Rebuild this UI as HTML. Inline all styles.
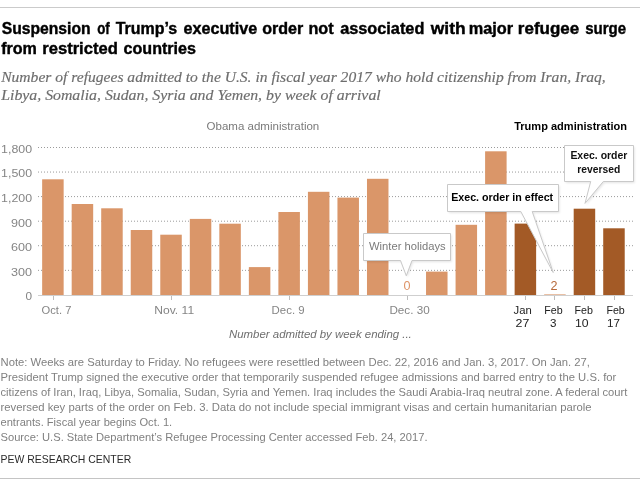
<!DOCTYPE html>
<html><head><meta charset="utf-8"><title>Refugee chart</title>
<style>
html,body{margin:0;padding:0;background:#fff;}
body{width:640px;height:486px;overflow:hidden;}
svg{display:block;will-change:transform;}
</style></head>
<body>
<svg width="640" height="486" viewBox="0 0 640 486">
<defs><filter id="blur" x="-10%" y="-10%" width="120%" height="130%"><feGaussianBlur stdDeviation="1"/></filter></defs>
<rect width="640" height="486" fill="#fff"/>
<rect x="0" y="7" width="640" height="1" fill="#cbcbcb"/>
<rect x="0" y="478" width="640" height="1" fill="#c4c4c4"/>
<text x="1.7" y="33.6" font-family="'Liberation Sans', sans-serif" font-size="16" font-weight="bold" font-style="normal" fill="#000" text-anchor="start" textLength="88.86" lengthAdjust="spacingAndGlyphs" stroke="#000" stroke-width="0.4">Suspension</text>
<text x="97.2" y="33.6" font-family="'Liberation Sans', sans-serif" font-size="16" font-weight="bold" font-style="normal" fill="#000" text-anchor="start" textLength="12.54" lengthAdjust="spacingAndGlyphs" stroke="#000" stroke-width="0.4">of</text>
<text x="115.7" y="33.6" font-family="'Liberation Sans', sans-serif" font-size="16" font-weight="bold" font-style="normal" fill="#000" text-anchor="start" textLength="61.5" lengthAdjust="spacingAndGlyphs" stroke="#000" stroke-width="0.4">Trump’s</text>
<text x="183.45" y="33.6" font-family="'Liberation Sans', sans-serif" font-size="16" font-weight="bold" font-style="normal" fill="#000" text-anchor="start" textLength="73.75" lengthAdjust="spacingAndGlyphs" stroke="#000" stroke-width="0.4">executive</text>
<text x="262.2" y="33.6" font-family="'Liberation Sans', sans-serif" font-size="16" font-weight="bold" font-style="normal" fill="#000" text-anchor="start" textLength="41.08" lengthAdjust="spacingAndGlyphs" stroke="#000" stroke-width="0.4">order</text>
<text x="308.44" y="33.6" font-family="'Liberation Sans', sans-serif" font-size="16" font-weight="bold" font-style="normal" fill="#000" text-anchor="start" textLength="25.18" lengthAdjust="spacingAndGlyphs" stroke="#000" stroke-width="0.4">not</text>
<text x="340.2" y="33.6" font-family="'Liberation Sans', sans-serif" font-size="16" font-weight="bold" font-style="normal" fill="#000" text-anchor="start" textLength="84.14" lengthAdjust="spacingAndGlyphs" stroke="#000" stroke-width="0.4">associated</text>
<text x="430.79" y="33.6" font-family="'Liberation Sans', sans-serif" font-size="16" font-weight="bold" font-style="normal" fill="#000" text-anchor="start" textLength="34.85" lengthAdjust="spacingAndGlyphs" stroke="#000" stroke-width="0.4">with</text>
<text x="468.68" y="33.6" font-family="'Liberation Sans', sans-serif" font-size="16" font-weight="bold" font-style="normal" fill="#000" text-anchor="start" textLength="44.35" lengthAdjust="spacingAndGlyphs" stroke="#000" stroke-width="0.4">major</text>
<text x="517.89" y="33.6" font-family="'Liberation Sans', sans-serif" font-size="16" font-weight="bold" font-style="normal" fill="#000" text-anchor="start" textLength="61.3" lengthAdjust="spacingAndGlyphs" stroke="#000" stroke-width="0.4">refugee</text>
<text x="585.2" y="33.6" font-family="'Liberation Sans', sans-serif" font-size="16" font-weight="bold" font-style="normal" fill="#000" text-anchor="start" textLength="40.9" lengthAdjust="spacingAndGlyphs" stroke="#000" stroke-width="0.4">surge</text>
<text x="1.2" y="53.6" font-family="'Liberation Sans', sans-serif" font-size="16" font-weight="bold" font-style="normal" fill="#000" text-anchor="start" textLength="35.73" lengthAdjust="spacingAndGlyphs" stroke="#000" stroke-width="0.4">from</text>
<text x="42.26" y="53.6" font-family="'Liberation Sans', sans-serif" font-size="16" font-weight="bold" font-style="normal" fill="#000" text-anchor="start" textLength="75.54" lengthAdjust="spacingAndGlyphs" stroke="#000" stroke-width="0.4">restricted</text>
<text x="123.6" y="53.6" font-family="'Liberation Sans', sans-serif" font-size="16" font-weight="bold" font-style="normal" fill="#000" text-anchor="start" textLength="72.35" lengthAdjust="spacingAndGlyphs" stroke="#000" stroke-width="0.4">countries</text>
<text x="1.2" y="81.9" font-family="'Liberation Serif', serif" font-size="14.2" font-weight="normal" font-style="italic" fill="#6d6d6d" text-anchor="start" textLength="604.5" lengthAdjust="spacingAndGlyphs" stroke="#6d6d6d" stroke-width="0.15">Number of refugees admitted to the U.S. in fiscal year 2017 who hold citizenship from Iran, Iraq,</text>
<text x="1.2" y="99.8" font-family="'Liberation Serif', serif" font-size="14.2" font-weight="normal" font-style="italic" fill="#6d6d6d" text-anchor="start" textLength="379.5" lengthAdjust="spacingAndGlyphs" stroke="#6d6d6d" stroke-width="0.15">Libya, Somalia, Sudan, Syria and Yemen, by week of arrival</text>
<text x="206.5" y="130.3" font-family="'Liberation Sans', sans-serif" font-size="11.2" font-weight="normal" font-style="normal" fill="#7a7a7a" text-anchor="start" textLength="112.8" lengthAdjust="spacingAndGlyphs">Obama administration</text>
<text x="514.2" y="130.3" font-family="'Liberation Sans', sans-serif" font-size="11.2" font-weight="bold" font-style="normal" fill="#000" text-anchor="start" textLength="112.8" lengthAdjust="spacingAndGlyphs">Trump administration</text>
<line x1="38" y1="270.35" x2="633" y2="270.35" stroke="#9a9a9a" stroke-width="1" stroke-dasharray="1 2"/>
<line x1="38" y1="245.7" x2="633" y2="245.7" stroke="#9a9a9a" stroke-width="1" stroke-dasharray="1 2"/>
<line x1="38" y1="221.2" x2="633" y2="221.2" stroke="#9a9a9a" stroke-width="1" stroke-dasharray="1 2"/>
<line x1="38" y1="196.6" x2="633" y2="196.6" stroke="#9a9a9a" stroke-width="1" stroke-dasharray="1 2"/>
<line x1="38" y1="172.05" x2="633" y2="172.05" stroke="#9a9a9a" stroke-width="1" stroke-dasharray="1 2"/>
<line x1="38" y1="147.5" x2="633" y2="147.5" stroke="#9a9a9a" stroke-width="1" stroke-dasharray="1 2"/>
<text x="32.1" y="300.4" font-family="'Liberation Sans', sans-serif" font-size="11.8" font-weight="normal" font-style="normal" fill="#858585" text-anchor="end">0</text>
<text x="32.1" y="275.8" font-family="'Liberation Sans', sans-serif" font-size="11.8" font-weight="normal" font-style="normal" fill="#858585" text-anchor="end" textLength="21.0" lengthAdjust="spacingAndGlyphs">300</text>
<text x="32.1" y="251.1" font-family="'Liberation Sans', sans-serif" font-size="11.8" font-weight="normal" font-style="normal" fill="#858585" text-anchor="end" textLength="21.0" lengthAdjust="spacingAndGlyphs">600</text>
<text x="32.1" y="226.5" font-family="'Liberation Sans', sans-serif" font-size="11.8" font-weight="normal" font-style="normal" fill="#858585" text-anchor="end" textLength="21.0" lengthAdjust="spacingAndGlyphs">900</text>
<text x="32.1" y="201.8" font-family="'Liberation Sans', sans-serif" font-size="11.8" font-weight="normal" font-style="normal" fill="#858585" text-anchor="end" textLength="31.0" lengthAdjust="spacingAndGlyphs">1,200</text>
<text x="32.1" y="177.2" font-family="'Liberation Sans', sans-serif" font-size="11.8" font-weight="normal" font-style="normal" fill="#858585" text-anchor="end" textLength="31.0" lengthAdjust="spacingAndGlyphs">1,500</text>
<text x="32.1" y="152.5" font-family="'Liberation Sans', sans-serif" font-size="11.8" font-weight="normal" font-style="normal" fill="#858585" text-anchor="end" textLength="31.0" lengthAdjust="spacingAndGlyphs">1,800</text>
<rect x="42.15" y="179.30" width="21.5" height="115.70" fill="#da9669"/>
<rect x="71.68" y="204.00" width="21.5" height="91.00" fill="#da9669"/>
<rect x="101.21" y="208.30" width="21.5" height="86.70" fill="#da9669"/>
<rect x="130.74" y="230.00" width="21.5" height="65.00" fill="#da9669"/>
<rect x="160.27" y="234.70" width="21.5" height="60.30" fill="#da9669"/>
<rect x="189.80" y="218.90" width="21.5" height="76.10" fill="#da9669"/>
<rect x="219.33" y="223.70" width="21.5" height="71.30" fill="#da9669"/>
<rect x="248.86" y="267.10" width="21.5" height="27.90" fill="#da9669"/>
<rect x="278.39" y="212.00" width="21.5" height="83.00" fill="#da9669"/>
<rect x="307.92" y="191.80" width="21.5" height="103.20" fill="#da9669"/>
<rect x="337.45" y="197.60" width="21.5" height="97.40" fill="#da9669"/>
<rect x="366.98" y="178.80" width="21.5" height="116.20" fill="#da9669"/>
<rect x="426.04" y="271.60" width="21.5" height="23.40" fill="#da9669"/>
<rect x="455.57" y="224.80" width="21.5" height="70.20" fill="#da9669"/>
<rect x="485.10" y="151.30" width="21.5" height="143.70" fill="#da9669"/>
<rect x="514.63" y="223.60" width="21.5" height="71.40" fill="#a35a26"/>
<rect x="544.16" y="294.00" width="21.5" height="1" fill="#da9669" opacity="0.6"/>
<rect x="573.69" y="208.70" width="21.5" height="86.30" fill="#a35a26"/>
<rect x="603.22" y="228.30" width="21.5" height="66.70" fill="#a35a26"/>
<rect x="38" y="295" width="595" height="1" fill="#cfcfcf"/>
<rect x="53" y="296" width="1" height="4" fill="#bdbdbd"/>
<rect x="171" y="296" width="1" height="4" fill="#bdbdbd"/>
<rect x="289" y="296" width="1" height="4" fill="#bdbdbd"/>
<rect x="407" y="296" width="1" height="4" fill="#bdbdbd"/>
<rect x="525" y="296" width="1" height="4" fill="#bdbdbd"/>
<rect x="554" y="296" width="1" height="4" fill="#bdbdbd"/>
<rect x="584" y="296" width="1" height="4" fill="#bdbdbd"/>
<rect x="614" y="296" width="1" height="4" fill="#bdbdbd"/>
<text x="41.6" y="313.7" font-family="'Liberation Sans', sans-serif" font-size="11.6" font-weight="normal" font-style="normal" fill="#858585" text-anchor="start" textLength="29.8" lengthAdjust="spacingAndGlyphs">Oct. 7</text>
<text x="154.3" y="313.7" font-family="'Liberation Sans', sans-serif" font-size="11.6" font-weight="normal" font-style="normal" fill="#858585" text-anchor="start" textLength="39.8" lengthAdjust="spacingAndGlyphs">Nov. 11</text>
<text x="271.6" y="313.7" font-family="'Liberation Sans', sans-serif" font-size="11.6" font-weight="normal" font-style="normal" fill="#858585" text-anchor="start" textLength="33" lengthAdjust="spacingAndGlyphs">Dec. 9</text>
<text x="389.4" y="313.7" font-family="'Liberation Sans', sans-serif" font-size="11.6" font-weight="normal" font-style="normal" fill="#858585" text-anchor="start" textLength="40.3" lengthAdjust="spacingAndGlyphs">Dec. 30</text>
<text x="513.6" y="313.5" font-family="'Liberation Sans', sans-serif" font-size="11.6" font-weight="normal" font-style="normal" fill="#222" text-anchor="start" textLength="18.2" lengthAdjust="spacingAndGlyphs">Jan</text>
<text x="515.6" y="326.7" font-family="'Liberation Sans', sans-serif" font-size="11.6" font-weight="normal" font-style="normal" fill="#222" text-anchor="start" textLength="13.8" lengthAdjust="spacingAndGlyphs">27</text>
<text x="544.3" y="313.5" font-family="'Liberation Sans', sans-serif" font-size="11.6" font-weight="normal" font-style="normal" fill="#222" text-anchor="start" textLength="18.4" lengthAdjust="spacingAndGlyphs">Feb</text>
<text x="550.0" y="326.7" font-family="'Liberation Sans', sans-serif" font-size="11.6" font-weight="normal" font-style="normal" fill="#222" text-anchor="start">3</text>
<text x="574.6" y="313.5" font-family="'Liberation Sans', sans-serif" font-size="11.6" font-weight="normal" font-style="normal" fill="#222" text-anchor="start" textLength="18.4" lengthAdjust="spacingAndGlyphs">Feb</text>
<text x="574.9" y="326.7" font-family="'Liberation Sans', sans-serif" font-size="11.6" font-weight="normal" font-style="normal" fill="#222" text-anchor="start" textLength="13.6" lengthAdjust="spacingAndGlyphs">10</text>
<text x="606.4" y="313.5" font-family="'Liberation Sans', sans-serif" font-size="11.6" font-weight="normal" font-style="normal" fill="#222" text-anchor="start" textLength="18.4" lengthAdjust="spacingAndGlyphs">Feb</text>
<text x="606.9" y="326.7" font-family="'Liberation Sans', sans-serif" font-size="11.6" font-weight="normal" font-style="normal" fill="#222" text-anchor="start" textLength="13.0" lengthAdjust="spacingAndGlyphs">17</text>
<text x="229.0" y="337.5" font-family="'Liberation Sans', sans-serif" font-size="11" font-weight="normal" font-style="italic" fill="#6e6e6e" text-anchor="start" textLength="182.8" lengthAdjust="spacingAndGlyphs">Number admitted by week ending ...</text>
<text x="407.1" y="289.9" font-family="'Liberation Sans', sans-serif" font-size="12.6" font-weight="normal" font-style="normal" fill="#de9467" text-anchor="middle">0</text>
<text x="554.1" y="289.9" font-family="'Liberation Sans', sans-serif" font-size="12.6" font-weight="normal" font-style="normal" fill="#b6693a" text-anchor="middle">2</text>
<path d="M363.5,233.5 H450.5 V260.5 H412 L406.3,275.8 L400.5,260.5 H363.5 Z" fill="#000" opacity="0.10" transform="translate(1.2,1.5)" filter="url(#blur)"/>
<path d="M363.5,233.5 H450.5 V260.5 H412 L406.3,275.8 L400.5,260.5 H363.5 Z" fill="#fff" stroke="#c9c9c9" stroke-width="1"/>
<text x="369.0" y="250.0" font-family="'Liberation Sans', sans-serif" font-size="11.2" font-weight="normal" font-style="normal" fill="#7a7a7a" text-anchor="start" textLength="76.6" lengthAdjust="spacingAndGlyphs">Winter holidays</text>
<path d="M447.5,184.5 H558.5 V211.5 H532.2 L553.2,272.5 L520.8,211.5 H447.5 Z" fill="#000" opacity="0.10" transform="translate(1.2,1.5)" filter="url(#blur)"/>
<path d="M447.5,184.5 H558.5 V211.5 H532.2 L553.2,272.5 L520.8,211.5 H447.5 Z" fill="#fff" stroke="#c9c9c9" stroke-width="1"/>
<text x="451.2" y="201.1" font-family="'Liberation Sans', sans-serif" font-size="10.8" font-weight="bold" font-style="normal" fill="#000" text-anchor="start" textLength="102" lengthAdjust="spacingAndGlyphs">Exec. order in effect</text>
<path d="M564.5,145.5 H633.5 V181.5 H603.3 L585,203.4 L590.7,181.5 H564.5 Z" fill="#000" opacity="0.10" transform="translate(1.2,1.5)" filter="url(#blur)"/>
<path d="M564.5,145.5 H633.5 V181.5 H603.3 L585,203.4 L590.7,181.5 H564.5 Z" fill="#fff" stroke="#c9c9c9" stroke-width="1"/>
<text x="570.4" y="158.9" font-family="'Liberation Sans', sans-serif" font-size="10.8" font-weight="bold" font-style="normal" fill="#111" text-anchor="start" textLength="57" lengthAdjust="spacingAndGlyphs">Exec. order</text>
<text x="577.3" y="172.5" font-family="'Liberation Sans', sans-serif" font-size="10.8" font-weight="bold" font-style="normal" fill="#111" text-anchor="start" textLength="43" lengthAdjust="spacingAndGlyphs">reversed</text>
<text x="0.5" y="366.0" font-family="'Liberation Sans', sans-serif" font-size="10.6" font-weight="normal" font-style="normal" fill="#808080" text-anchor="start" textLength="589.5" lengthAdjust="spacingAndGlyphs">Note: Weeks are Saturday to Friday. No refugees were resettled between Dec. 22, 2016 and Jan. 3, 2017. On Jan. 27,</text>
<text x="0.5" y="380.9" font-family="'Liberation Sans', sans-serif" font-size="10.6" font-weight="normal" font-style="normal" fill="#808080" text-anchor="start" textLength="615.8" lengthAdjust="spacingAndGlyphs">President Trump signed the executive order that temporarily suspended refugee admissions and barred entry to the U.S. for</text>
<text x="0.5" y="395.8" font-family="'Liberation Sans', sans-serif" font-size="10.6" font-weight="normal" font-style="normal" fill="#808080" text-anchor="start" textLength="626.9" lengthAdjust="spacingAndGlyphs">citizens of Iran, Iraq, Libya, Somalia, Sudan, Syria and Yemen. Iraq includes the Saudi Arabia-Iraq neutral zone. A federal court</text>
<text x="0.5" y="410.7" font-family="'Liberation Sans', sans-serif" font-size="10.6" font-weight="normal" font-style="normal" fill="#808080" text-anchor="start" textLength="591.1" lengthAdjust="spacingAndGlyphs">reversed key parts of the order on Feb. 3. Data do not include special immigrant visas and certain humanitarian parole</text>
<text x="0.5" y="425.6" font-family="'Liberation Sans', sans-serif" font-size="10.6" font-weight="normal" font-style="normal" fill="#808080" text-anchor="start" textLength="171.7" lengthAdjust="spacingAndGlyphs">entrants. Fiscal year begins Oct. 1.</text>
<text x="0.5" y="440.5" font-family="'Liberation Sans', sans-serif" font-size="10.6" font-weight="normal" font-style="normal" fill="#808080" text-anchor="start" textLength="427.0" lengthAdjust="spacingAndGlyphs">Source: U.S. State Department’s Refugee Processing Center accessed Feb. 24, 2017.</text>
<text x="0.6" y="463.1" font-family="'Liberation Sans', sans-serif" font-size="10.4" font-weight="normal" font-style="normal" fill="#2a2a2a" text-anchor="start" textLength="130.6" lengthAdjust="spacingAndGlyphs">PEW RESEARCH CENTER</text>
</svg>
</body></html>
